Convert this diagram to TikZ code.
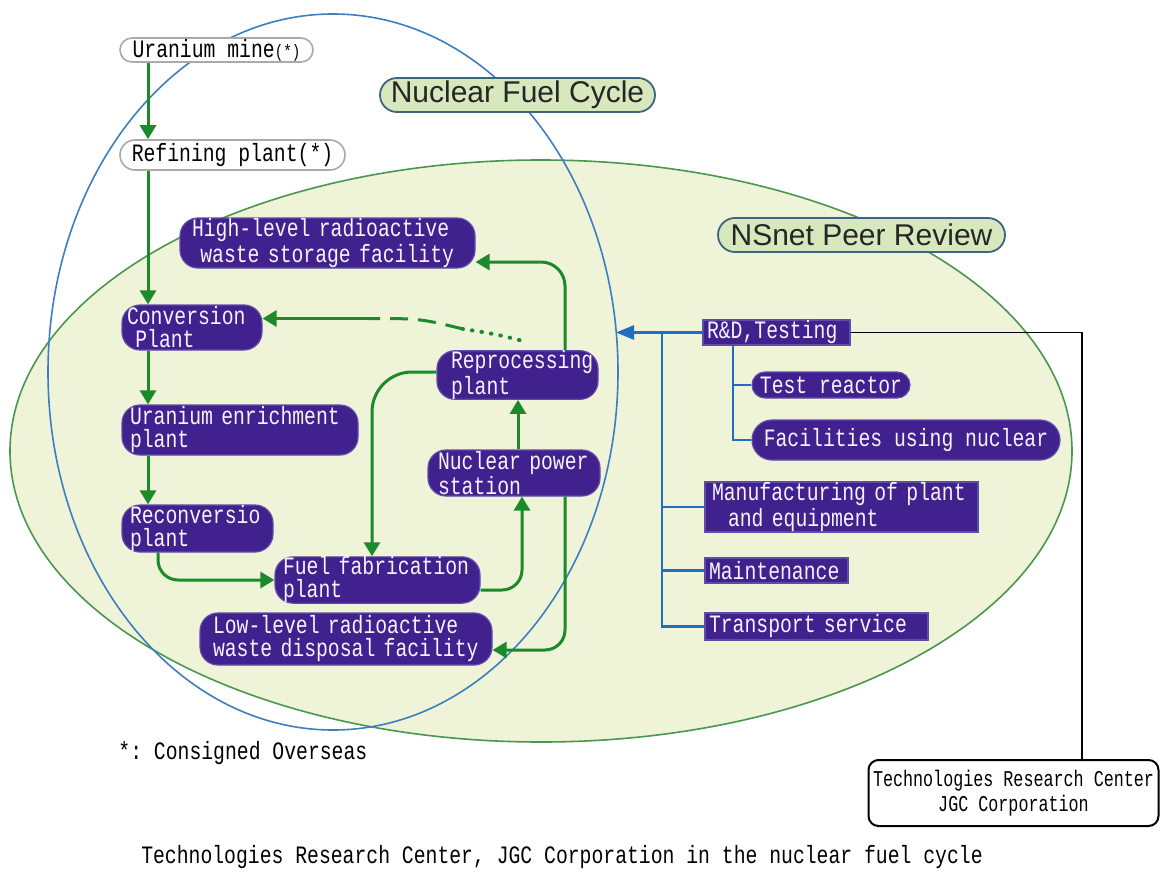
\documentclass[tikz,border=0pt]{standalone}
\usepackage{fontspec}
\setmainfont{Liberation Sans}
\newfontfamily\gfont[FakeStretch=0.79]{Liberation Mono}
\newfontfamily\hfont[FakeStretch=0.74]{Liberation Mono}
\usetikzlibrary{arrows.meta,calc}
\hyphenpenalty=10000
\exhyphenpenalty=10000
\definecolor{bpurple}{RGB}{64,33,142}
\definecolor{pedge}{RGB}{95,75,170}
\definecolor{ptext}{RGB}{246,242,255}
\definecolor{garrowc}{RGB}{26,138,42}
\definecolor{gfill}{RGB}{239,243,216}
\definecolor{gedge}{RGB}{76,150,80}
\definecolor{bedge}{RGB}{60,127,192}
\definecolor{btree}{RGB}{31,110,192}
\definecolor{tgreen}{RGB}{214,232,188}
\definecolor{tborder}{RGB}{62,100,130}
\definecolor{wborder}{RGB}{170,170,170}
\begin{document}
\begin{tikzpicture}[x=0.5pt,y=-0.5pt,
  gtext/.style={font=\gfont\fontsize{12.5pt}{11.5pt}\selectfont},
  pbox/.style={gtext, fill=bpurple, draw=pedge, line width=0.6pt, text=ptext,
    rounded corners=9pt, align=left, inner ysep=0pt},
  sbox/.style={gtext, fill=bpurple, draw=pedge, line width=0.6pt, text=ptext,
    align=left, inner ysep=0pt},
  ppill/.style={gtext, fill=bpurple, draw=pedge, line width=0.6pt, text=ptext,
    align=center, inner sep=0pt},
  wpill/.style={gtext, fill=white, draw=wborder, line width=0.8pt, text=black,
    inner sep=0pt},
  tpill/.style={font=\fontsize{15pt}{15pt}\selectfont, fill=tgreen, draw=tborder,
    line width=0.9pt, rounded corners=8.5pt, text=black!85, inner sep=0pt,
    minimum height=17pt},
  garrow/.style={draw=garrowc, line width=1.5pt, -{Triangle[width=8pt,length=7pt]}},
  gline/.style={draw=garrowc, line width=1.5pt},
  bline/.style={draw=btree, line width=1.3pt},
  barrow/.style={draw=btree, line width=1.3pt, -{Triangle[width=7pt,length=9pt]}},
  kline/.style={draw=black, line width=0.8pt}
]
\useasboundingbox (0,0) rectangle (1161,883);
\fill[white] (0,0) rectangle (1161,883);

% big ellipses
\filldraw[fill=gfill, draw=gedge, line width=0.8pt] (541,451) ellipse [x radius=265.5pt, y radius=145.5pt];
\draw[draw=bedge, line width=0.8pt] (333,372) ellipse [x radius=142.5pt, y radius=179pt];

% title pills
\node[tpill, minimum width=137.5pt] (nfc) at (517.5,95) {Nuclear Fuel Cycle};
\node[tpill, minimum width=143.5pt] (nsnet) at (861.5,235) {NSnet Peer Review};

% white pills
\node[wpill, minimum width=96.5pt, minimum height=12pt, rounded corners=6pt] (mine) at (216.5,50)
  {Uranium~mine{\fontsize{9pt}{9pt}\selectfont(*)}};
\node[wpill, minimum width=112.5pt, minimum height=15pt, rounded corners=7.5pt] (refine) at (232.5,155)
  {Refining~plant(*)};

% purple process boxes
\node[pbox, minimum width=147.5pt, minimum height=25pt, inner xsep=6pt, text width=135.5pt] (hl) at (327.5,243)
  {High-level~radioactive\\~waste~storage~facility};
\node[pbox, minimum width=70pt, minimum height=22.5pt, inner xsep=2.5pt, text width=65pt] (conv) at (192,327.5)
  {Conversion\\~Plant};
\node[pbox, minimum width=80.5pt, minimum height=23pt, inner xsep=7pt, text width=66.5pt] (repro) at (517.5,375)
  {Reprocessing\\plant};
\node[pbox, minimum width=118pt, minimum height=25pt, inner xsep=4pt, text width=110pt] (enrich) at (240,430)
  {Uranium~enrichment\\plant};
\node[pbox, minimum width=86pt, minimum height=23pt, inner xsep=5pt, text width=76pt] (nps) at (514,473)
  {Nuclear~power\\station};
\node[pbox, minimum width=75.5pt, minimum height=23.5pt, inner xsep=4pt, text width=67.5pt] (reconv) at (197.5,528.5)
  {Reconversio\\plant};
\node[pbox, minimum width=102.5pt, minimum height=22pt, inner xsep=4pt, text width=94.5pt] (fab) at (377.5,580)
  {\mbox{Fuel~fabrication}\\plant};
\node[pbox, minimum width=146pt, minimum height=26pt, inner xsep=6.5pt, text width=133pt] (ll) at (346,639)
  {Low-level~radioactive\\waste~disposal~facility};

% right side boxes
\node[sbox, minimum width=73.5pt, minimum height=12.5pt, inner xsep=2pt, text width=69.5pt] (rd) at (776.5,332.5)
  {R\&D,Testing};
\node[ppill, minimum width=79pt, minimum height=13pt, rounded corners=6.5pt] (test) at (831,385)
  {Test~reactor};
\node[ppill, minimum width=154pt, minimum height=20pt, rounded corners=10pt] (fac) at (906,440)
  {Facilities~using~nuclear};
\node[sbox, minimum width=136.5pt, minimum height=25pt, inner xsep=3.5pt, text width=129.5pt] (manu) at (841.5,507)
  {Manufacturing~of~plant\\\hspace*{8pt}and~equipment};
\node[sbox, minimum width=71.5pt, minimum height=12.5pt, inner xsep=2pt, text width=67.5pt] (maint) at (776.5,570.5)
  {Maintenance};
\node[sbox, minimum width=111.5pt, minimum height=13.5pt, inner xsep=2pt, text width=107.5pt] (trans) at (816.5,626.5)
  {Transport~service};

% TRC box
\node[draw=black, line width=1pt, rounded corners=5pt, fill=white, minimum width=145pt,
  minimum height=33pt, align=center, inner sep=0pt, font=\hfont\fontsize{11.3pt}{12.5pt}\selectfont] (trc) at (1013.5,793)
  {Technologies~Research~Center\\JGC~Corporation};

% texts
\node[gtext, anchor=west, inner sep=0pt] (note) at (118,753) {*:~Consigned~Overseas};
\node[gtext, inner sep=0pt] (cap) at (562,857)
  {Technologies~Research~Center,~JGC~Corporation~in~the~nuclear~fuel~cycle};

% helper coordinates
\coordinate (cL) at (148,0);
\coordinate (c5) at (158,0);
\coordinate (c7) at (518,0);
\coordinate (c8) at (372,0);
\coordinate (c9) at (565,0);
\coordinate (d1) at (367,318.5);
\coordinate (d2) at (463,329);
\coordinate (btip) at (616,332.5);
\coordinate (tr) at (662,0);
\coordinate (sb) at (733,0);
\coordinate (kx) at (1082,0);

% green flow
\draw[garrow] (mine.south -| cL) -- (refine.north -| cL);
\draw[garrow] (refine.south -| cL) -- (conv.north -| cL);
\draw[garrow] (conv.south -| cL) -- (enrich.north -| cL);
\draw[garrow] (enrich.south -| cL) -- (reconv.north -| cL);
\draw[garrow, rounded corners=10pt] (reconv.south -| c5) |- (fab.west);
\draw[garrow, rounded corners=10pt] ([yshift=-5pt]fab.east) -| ([xshift=4pt]nps.south);
\draw[garrow] (nps.north -| c7) -- (repro.south -| c7);
\draw[garrow, rounded corners=20pt] ([yshift=1.5pt]repro.west) -| (fab.north -| c8);
\draw[garrow, rounded corners=12pt] (repro.north -| c9) |- ([yshift=-9.5pt]hl.east);
\draw[garrow, rounded corners=10pt] (nps.south -| c9) |- ([yshift=-5.5pt]ll.east);
% reprocessing -> conversion (dotted, dashed, solid)
\draw[gline, line width=2pt, line cap=round, dash pattern=on 0.3pt off 4.5pt] ([xshift=1pt,yshift=5pt]repro.north) .. controls (495,334) .. (d2);
\draw[gline, dash pattern=on 9pt off 5pt] (d2) .. controls (420,318.5) .. (d1);
\draw[garrow] (d1) -- ([yshift=4.5pt]conv.east);

% blue tree
\draw[barrow] (rd.west) -- (btip);
\draw[bline] (rd.west -| tr) |- (trans.west);
\draw[bline] (manu.west -| tr) -- (manu.west);
\draw[bline] (maint.west -| tr) -- (maint.west);
\draw[bline] (rd.south -| sb) |- (fac.west);
\draw[bline] (test.west -| sb) -- (test.west);

% black connector
\draw[kline] (rd.east) -| (trc.north -| kx);
\end{tikzpicture}
\end{document}
